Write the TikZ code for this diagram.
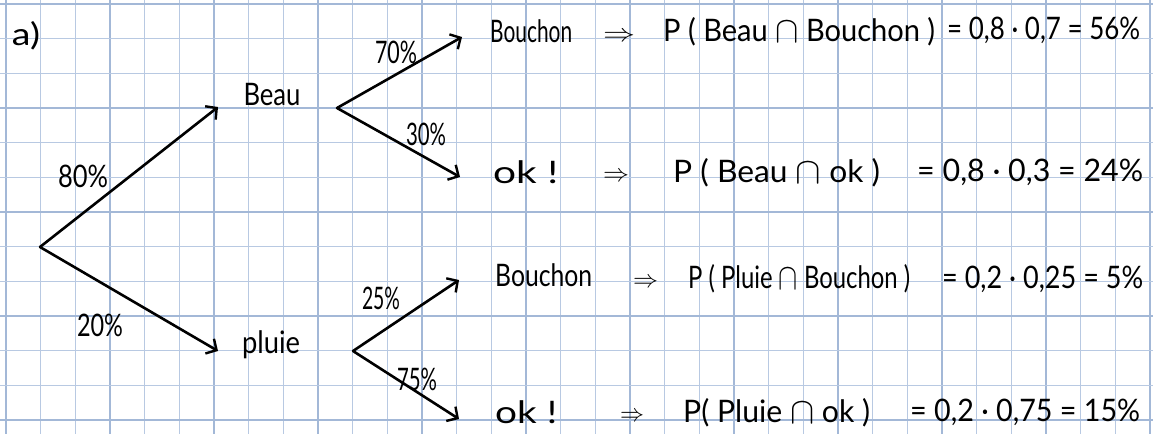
\documentclass[tikz,border=0pt]{standalone}
\usepackage{fontspec}
\setmainfont{Lato}
\usepackage{graphicx}
\usetikzlibrary{arrows.meta}
\definecolor{gridc}{RGB}{184,201,226}
\definecolor{gridd}{RGB}{163,184,215}
\newcommand\fitw[2]{\resizebox{#1}{\height}{#2}}
\newcommand\bigcapsym{\raisebox{-0.1ex}{\scalebox{1.5}{$\cap$}}}
\begin{document}
\begin{tikzpicture}[x=1pt,y=-1pt,
  txt/.style={font=\fontsize{31}{36}\selectfont, inner sep=0pt, text=black},
  rt/.style={txt, anchor=base west},
  arr/.style={line width=2.6pt, line cap=round, line join=round,
    -{Straight Barb[length=8pt,width=17pt,line width=2.4pt]}},
  gthin/.style={draw=gridc, line width=1.3pt},
  gthick/.style={draw=gridd, line width=2pt}]
\useasboundingbox (0,0) rectangle (1153,434);
\fill[white] (0,0) rectangle (1153,434);
% graph paper
\foreach \k in {0,...,33} {
  \pgfmathsetmacro\xx{6+34.667*\k}
  \pgfmathtruncatemacro\m{mod(\k,3)}
  \ifnum\m=0 \draw[gthick] (\xx,0) -- (\xx,434); \else \draw[gthin] (\xx,0) -- (\xx,434); \fi
}
\foreach \k in {0,...,12} {
  \pgfmathsetmacro\yy{4+34.667*\k}
  \pgfmathtruncatemacro\m{mod(\k,3)}
  \ifnum\m=0 \draw[gthick] (0,\yy) -- (1153,\yy); \else \draw[gthin] (0,\yy) -- (1153,\yy); \fi
}
% tree
\node[txt] (a) at (26,36) {\fitw{28pt}{a)}};
\coordinate (r) at (40,247);
\coordinate (bIn) at (218,107);
\coordinate (pIn) at (218,351);
\node[txt] (beau) at (272,95) {\fitw{57pt}{Beau}};
\node[txt] (pluie) at (271,345) {\fitw{58pt}{pluie}};
\coordinate (bOut) at (337,108);
\coordinate (pOut) at (353,351);
\coordinate (bb) at (462,37);
\coordinate (bo) at (460,177);
\coordinate (pb) at (459,280);
\coordinate (po) at (459,419);
\draw[arr] (r) -- (bIn);
\draw[arr] (r) -- (pIn);
\draw[arr] (bOut) -- (bb);
\draw[arr] (bOut) -- (bo);
\draw[arr] (pOut) -- (pb);
\draw[arr] (pOut) -- (po);
\node[txt] (l80) at (83,176) {\fitw{50pt}{80\%}};
\node[txt] (l20) at (100,325) {\fitw{46pt}{20\%}};
\node[txt] (l70) at (396,52) {\fitw{42pt}{70\%}};
\node[txt] (l30) at (426,134) {\fitw{40pt}{30\%}};
\node[txt] (l25) at (381,298) {\fitw{38pt}{25\%}};
\node[txt] (l75) at (417,379) {\fitw{40pt}{75\%}};
% row 1
\node[rt] (r1a) at (490,42) {\fitw{82pt}{Bouchon}};
\node[rt] (r1b) at (603,41) {\fitw{32pt}{$\Rightarrow$}};
\node[rt] (r1c) at (663,41) {\fitw{272pt}{P ( Beau \bigcapsym{} Bouchon )}};
\node[rt] (r1d) at (947,39) {\fitw{193pt}{= 0,8 · 0,7 = 56\%}};
% row 2
\node[rt] (r2a) at (493,183) {\fitw{65pt}{ok !}};
\node[rt] (r2b) at (603,181) {\fitw{26pt}{$\Rightarrow$}};
\node[rt] (r2c) at (673,182) {\fitw{207pt}{P ( Beau \bigcapsym{} ok )}};
\node[rt] (r2d) at (917,181) {\fitw{226pt}{= 0,8 · 0,3 = 24\%}};
% row 3
\node[rt] (r3a) at (495,286) {\fitw{97pt}{Bouchon}};
\node[rt] (r3b) at (633,287) {\fitw{25pt}{$\Rightarrow$}};
\node[rt] (r3c) at (688,288) {\fitw{222pt}{P ( Pluie \bigcapsym{} Bouchon )}};
\node[rt] (r3d) at (942,288) {\fitw{201pt}{= 0,2 · 0,25 = 5\%}};
% row 4
\node[rt] (r4a) at (495,423) {\fitw{62pt}{ok !}};
\node[rt] (r4b) at (620,421) {\fitw{24pt}{$\Rightarrow$}};
\node[rt] (r4c) at (683,422) {\fitw{187pt}{P( Pluie \bigcapsym{} ok )}};
\node[rt] (r4d) at (910,421) {\fitw{230pt}{= 0,2 · 0,75 = 15\%}};
\end{tikzpicture}
\end{document}
